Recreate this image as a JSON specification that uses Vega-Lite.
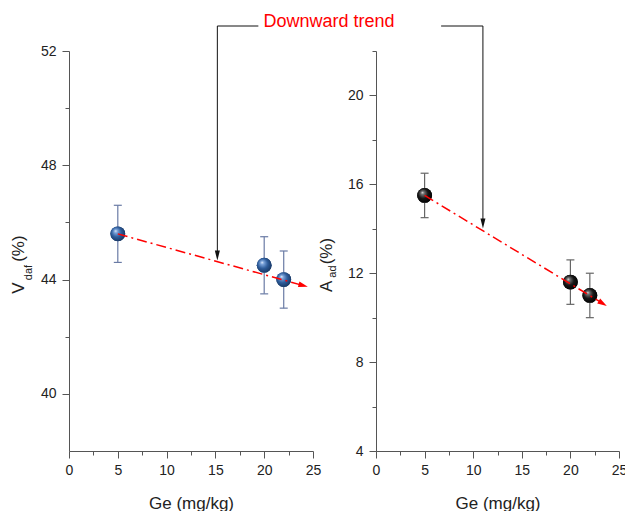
{
  "$schema": "https://vega.github.io/schema/vega-lite/v6.json",
  "background": "white",
  "padding": {"left": 9, "top": 12, "right": 0, "bottom": 0},
  "bounds": "flush",
  "spacing": 63,
  "config": {
    "view": {"stroke": null},
    "font": "Liberation Sans",
    "axis": {
      "domainColor": "#555", "tickColor": "#555", "labelColor": "#222",
      "labelFont": "Liberation Sans", "labelFontSize": 14,
      "titleFont": "Liberation Sans", "titleFontSize": 17, "titleFontWeight": "normal", "titleColor": "#222",
      "grid": false, "labelOverlap": false, "labelBound": false, "labelFlush": false,
      "domainWidth": 1, "tickWidth": 1
    }
  },
  "datasets": {
    "vdaf": [
      {"Ge": 5, "val": 45.6, "lo": 44.6, "hi": 46.6},
      {"Ge": 20, "val": 44.5, "lo": 43.5, "hi": 45.5},
      {"Ge": 22, "val": 44.0, "lo": 43.0, "hi": 45.0}
    ],
    "aad": [
      {"Ge": 5, "val": 15.5, "lo": 14.5, "hi": 16.5},
      {"Ge": 20, "val": 11.6, "lo": 10.6, "hi": 12.6},
      {"Ge": 22, "val": 11.0, "lo": 10.0, "hi": 12.0}
    ],
    "trendL": [{"Ge": 5, "val": 45.6}, {"Ge": 24.0, "val": 43.79}],
    "trendLhead": [{"Ge": 24.0, "val": 43.79}],
    "trendR": [{"Ge": 5, "val": 15.5}, {"Ge": 23.33, "val": 10.64}],
    "trendRhead": [{"Ge": 23.33, "val": 10.64}],
    "connL": [{"o": 1, "Ge": 19.4, "val": 52.875}, {"o": 2, "Ge": 15.2, "val": 52.875}, {"o": 3, "Ge": 15.2, "val": 44.84}],
    "connLhead": [{"Ge": 15.2, "val": 44.84}],
    "connR": [{"o": 1, "Ge": 6.7, "val": 23.125}, {"o": 2, "Ge": 11.0, "val": 23.125}, {"o": 3, "Ge": 11.0, "val": 14.24}],
    "connRhead": [{"Ge": 11.0, "val": 14.24}],
    "titleLbig": [{"label": "V", "Ge": -5.17, "val": 43.5}, {"label": "(%)", "Ge": -5.1, "val": 44.62}],
    "titleLsmall": [{"label": "daf", "Ge": -4.05, "val": 43.98}],
    "titleRbig": [{"label": "A", "Ge": -5.04, "val": 11.16}, {"label": "(%)", "Ge": -5.0, "val": 12.4}],
    "titleRsmall": [{"label": "ad", "Ge": -4.42, "val": 11.8}],
    "note": [{"label": "Downward trend", "Ge": 26.64, "val": 53.02}]
  },
  "hconcat": [
    {
      "width": 244, "height": 400,
      "encoding": {
        "x": {"field": "Ge", "type": "quantitative",
          "scale": {"domain": [0, 25], "nice": false, "zero": false},
          "axis": {"title": "Ge (mg/kg)", "values": [0, 2.5, 5, 7.5, 10, 12.5, 15, 17.5, 20, 22.5, 25],
            "labelExpr": "datum.value % 5 == 0 ? datum.label : ''",
            "tickSize": {"condition": {"test": "datum.value % 5 == 0", "value": 7}, "value": 4},
            "labelPadding": 5, "titlePadding": 18}},
        "y": {"field": "val", "type": "quantitative",
          "scale": {"domain": [38, 52], "nice": false, "zero": false},
          "axis": {"title": null, "values": [40, 42, 44, 46, 48, 50, 52],
            "labelExpr": "datum.value % 4 == 0 ? datum.label : ''",
            "tickSize": {"condition": {"test": "datum.value % 4 == 0", "value": 7}, "value": 4},
            "labelPadding": 6}}
      },
      "layer": [
        {"data": {"name": "vdaf"},
          "mark": {"type": "point", "filled": true, "size": 220, "opacity": 1,
            "fill": {"gradient": "radial", "x1": 0.35, "y1": 0.3, "r1": 0, "x2": 0.45, "y2": 0.45, "r2": 0.6,
              "stops": [{"offset": 0, "color": "#eef4ff"}, {"offset": 0.18, "color": "#7ea6dc"}, {"offset": 0.55, "color": "#2e5d9c"}, {"offset": 1, "color": "#17345e"}]}}},
        {"data": {"name": "vdaf"}, "mark": {"type": "rule", "color": "#6a7ba5", "strokeWidth": 1.2},
          "encoding": {"y": {"field": "lo", "type": "quantitative"}, "y2": {"field": "hi"}}},
        {"data": {"name": "vdaf"}, "transform": [{"fold": ["lo", "hi"], "as": ["k", "capv"]}],
          "mark": {"type": "tick", "orient": "horizontal", "size": 8, "thickness": 1.2, "color": "#6a7ba5", "opacity": 1},
          "encoding": {"y": {"field": "capv", "type": "quantitative"}}},
        {"data": {"name": "vdaf"},
          "mark": {"type": "point", "filled": true, "size": 220, "opacity": 1,
            "fill": {"gradient": "radial", "x1": 0.35, "y1": 0.3, "r1": 0, "x2": 0.45, "y2": 0.45, "r2": 0.6,
              "stops": [{"offset": 0, "color": "#eef4ff"}, {"offset": 0.18, "color": "#7ea6dc"}, {"offset": 0.55, "color": "#2e5d9c"}, {"offset": 1, "color": "#17345e"}]}}},
        {"data": {"name": "trendL"}, "mark": {"type": "line", "color": "#ff0000", "strokeWidth": 1.5, "strokeDash": [10, 4, 2, 4], "clip": false}},
        {"data": {"name": "trendLhead"}, "mark": {"type": "point", "shape": "M-1,-0.6L1,0L-1,0.6Z", "size": 90, "filled": true, "color": "#ff0000", "opacity": 1, "angle": 15.6, "clip": false}},
        {"data": {"name": "connL"}, "mark": {"type": "line", "color": "#111", "strokeWidth": 1, "clip": false},
          "encoding": {"order": {"field": "o", "type": "quantitative"}}},
        {"data": {"name": "connLhead"}, "mark": {"type": "point", "shape": "M-0.5,-1L0,1L0.5,-1Z", "size": 100, "filled": true, "color": "#111", "opacity": 1, "clip": false}},
        {"data": {"name": "titleLbig"}, "mark": {"type": "text", "angle": 270, "align": "left", "baseline": "middle", "fontSize": 17, "color": "#222", "clip": false},
          "encoding": {"text": {"field": "label"}}},
        {"data": {"name": "titleLsmall"}, "mark": {"type": "text", "angle": 270, "align": "left", "baseline": "middle", "fontSize": 11, "color": "#222", "clip": false},
          "encoding": {"text": {"field": "label"}}},
        {"data": {"name": "note"}, "mark": {"type": "text", "align": "center", "baseline": "middle", "fontSize": 18, "color": "#ff0000", "clip": false},
          "encoding": {"text": {"field": "label"}}}
      ]
    },
    {
      "width": 243, "height": 400,
      "encoding": {
        "x": {"field": "Ge", "type": "quantitative",
          "scale": {"domain": [0, 25], "nice": false, "zero": false},
          "axis": {"title": "Ge (mg/kg)", "values": [0, 2.5, 5, 7.5, 10, 12.5, 15, 17.5, 20, 22.5, 25],
            "labelExpr": "datum.value % 5 == 0 ? datum.label : ''",
            "tickSize": {"condition": {"test": "datum.value % 5 == 0", "value": 7}, "value": 4},
            "labelPadding": 5, "titlePadding": 18}},
        "y": {"field": "val", "type": "quantitative",
          "scale": {"domain": [4, 22], "nice": false, "zero": false},
          "axis": {"title": null, "values": [4, 6, 8, 10, 12, 14, 16, 18, 20, 22],
            "labelExpr": "datum.value % 4 == 0 ? datum.label : ''",
            "tickSize": {"condition": {"test": "datum.value % 4 == 0", "value": 7}, "value": 4},
            "labelPadding": 6}}
      },
      "layer": [
        {"data": {"name": "aad"},
          "mark": {"type": "point", "filled": true, "size": 220, "opacity": 1,
            "fill": {"gradient": "radial", "x1": 0.35, "y1": 0.3, "r1": 0, "x2": 0.45, "y2": 0.45, "r2": 0.6,
              "stops": [{"offset": 0, "color": "#e0e0e0"}, {"offset": 0.18, "color": "#707070"}, {"offset": 0.55, "color": "#161616"}, {"offset": 1, "color": "#000000"}]}}},
        {"data": {"name": "aad"}, "mark": {"type": "rule", "color": "#666", "strokeWidth": 1.2},
          "encoding": {"y": {"field": "lo", "type": "quantitative"}, "y2": {"field": "hi"}}},
        {"data": {"name": "aad"}, "transform": [{"fold": ["lo", "hi"], "as": ["k", "capv"]}],
          "mark": {"type": "tick", "orient": "horizontal", "size": 8, "thickness": 1.2, "color": "#666", "opacity": 1},
          "encoding": {"y": {"field": "capv", "type": "quantitative"}}},
        {"data": {"name": "aad"},
          "mark": {"type": "point", "filled": true, "size": 220, "opacity": 1,
            "fill": {"gradient": "radial", "x1": 0.35, "y1": 0.3, "r1": 0, "x2": 0.45, "y2": 0.45, "r2": 0.6,
              "stops": [{"offset": 0, "color": "#e0e0e0"}, {"offset": 0.18, "color": "#707070"}, {"offset": 0.55, "color": "#161616"}, {"offset": 1, "color": "#000000"}]}}},
        {"data": {"name": "trendR"}, "mark": {"type": "line", "color": "#ff0000", "strokeWidth": 1.5, "strokeDash": [10, 4, 2, 4], "clip": false}},
        {"data": {"name": "trendRhead"}, "mark": {"type": "point", "shape": "M-1,-0.6L1,0L-1,0.6Z", "size": 90, "filled": true, "color": "#ff0000", "opacity": 1, "angle": 31.2, "clip": false}},
        {"data": {"name": "connR"}, "mark": {"type": "line", "color": "#111", "strokeWidth": 1, "clip": false},
          "encoding": {"order": {"field": "o", "type": "quantitative"}}},
        {"data": {"name": "connRhead"}, "mark": {"type": "point", "shape": "M-0.5,-1L0,1L0.5,-1Z", "size": 100, "filled": true, "color": "#111", "opacity": 1, "clip": false}},
        {"data": {"name": "titleRbig"}, "mark": {"type": "text", "angle": 270, "align": "left", "baseline": "middle", "fontSize": 17, "color": "#222", "clip": false},
          "encoding": {"text": {"field": "label"}}},
        {"data": {"name": "titleRsmall"}, "mark": {"type": "text", "angle": 270, "align": "left", "baseline": "middle", "fontSize": 11, "color": "#222", "clip": false},
          "encoding": {"text": {"field": "label"}}}
      ]
    }
  ]
}
